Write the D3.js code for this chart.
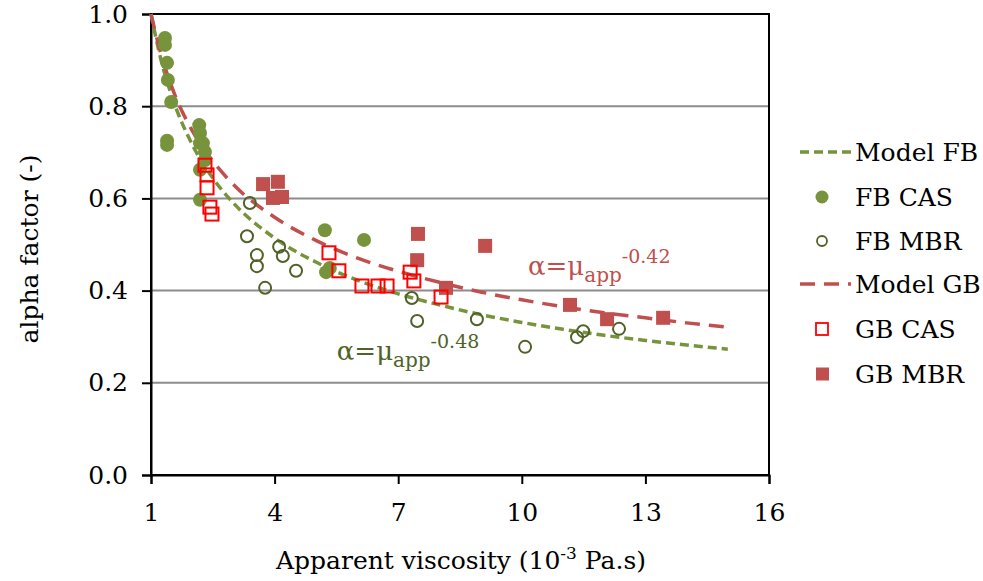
<!DOCTYPE html>
<html>
<head>
<meta charset="utf-8">
<script src="https://cdn.jsdelivr.net/npm/d3@7"></script>
<style>
  body { margin: 0; background: #fff; }
  svg { display: block; font-family: "DejaVu Serif", serif; }
</style>
</head>
<body>
<svg id="chart" width="983" height="581"></svg>
<script>
// model curves, alpha = mu_app^-n
const modelMu = [1, 1.25, 1.5, 2, 2.5, 3, 4, 5, 6, 7, 8, 9, 10, 11, 12, 13, 14, 15];
const modelFB = [1, 0.898, 0.823, 0.717, 0.644, 0.590, 0.514, 0.462, 0.423, 0.393, 0.369, 0.348, 0.331, 0.316, 0.303, 0.292, 0.282, 0.273];
const modelGB = [1, 0.911, 0.843, 0.747, 0.681, 0.630, 0.559, 0.509, 0.471, 0.442, 0.418, 0.397, 0.380, 0.365, 0.352, 0.341, 0.330, 0.321];

const fbCasMu = [1.34, 1.34, 1.39, 1.41, 1.49, 1.39, 1.39, 2.17, 2.19, 2.19, 2.26, 2.31, 2.31, 2.19, 2.19, 5.22, 6.17, 5.34, 5.25];
const fbCasA  = [0.948, 0.933, 0.894, 0.857, 0.809, 0.725, 0.716, 0.759, 0.742, 0.720, 0.720, 0.701, 0.683, 0.662, 0.597, 0.531, 0.510, 0.449, 0.440];

const fbMbrMu = [3.40, 3.33, 4.11, 3.57, 4.20, 3.57, 4.52, 3.77, 7.33, 7.46, 8.91, 10.08, 11.34, 11.49, 12.36];
const fbMbrA  = [0.590, 0.518, 0.495, 0.477, 0.475, 0.453, 0.443, 0.406, 0.384, 0.334, 0.338, 0.278, 0.299, 0.312, 0.317];

const gbCasMu = [2.31, 2.36, 2.36, 2.43, 2.48, 5.32, 5.56, 6.12, 6.51, 6.73, 7.29, 7.38, 8.04];
const gbCasA  = [0.672, 0.651, 0.623, 0.581, 0.566, 0.482, 0.443, 0.410, 0.410, 0.410, 0.440, 0.421, 0.386];

const gbMbrMu = [3.72, 4.08, 3.96, 4.18, 7.48, 7.46, 8.16, 9.11, 11.17, 12.07, 13.43];
const gbMbrA  = [0.631, 0.636, 0.601, 0.603, 0.523, 0.466, 0.406, 0.497, 0.369, 0.338, 0.341];

const xTicks = [1, 4, 7, 10, 13, 16];
const yTicks = [0, 0.2, 0.4, 0.6, 0.8, 1.0];

const GREEN = "#77933c", DKGREEN = "#4f6228", RED = "#c0504d", BRIGHT = "#ff0000";

const svg = d3.select("#chart");
const x = d3.scaleLinear().domain([1, 16]).range([151, 769]);
const y = d3.scaleLinear().domain([0, 1]).range([475, 14]);

// gridlines
svg.append("g")
  .selectAll("line")
  .data(yTicks.filter(d => d > 0 && d < 1))
  .join("line")
  .attr("x1", x(1)).attr("x2", x(16))
  .attr("y1", d => y(d)).attr("y2", d => y(d))
  .attr("stroke", "#8c8c8c").attr("stroke-width", 2);

// frame
svg.append("rect")
  .attr("x", x(1)).attr("y", y(1))
  .attr("width", x(16) - x(1)).attr("height", y(0) - y(1))
  .attr("fill", "none").attr("stroke", "#000").attr("stroke-width", 2);

const xAxis = svg.append("g")
  .attr("transform", `translate(0,${y(0)})`)
  .call(d3.axisBottom(x).tickValues(xTicks).tickSize(9).tickPadding(19).tickFormat(d3.format("d")));
const yAxis = svg.append("g")
  .attr("transform", `translate(${x(1)},0)`)
  .call(d3.axisLeft(y).tickValues(yTicks).tickSize(9).tickPadding(14).tickFormat(d3.format(".1f")));
[xAxis, yAxis].forEach(g => {
  g.select(".domain").attr("stroke-width", 2);
  g.selectAll(".tick line").attr("stroke-width", 2);
  g.selectAll(".tick text")
    .attr("font-family", "DejaVu Serif, serif")
    .attr("font-size", 25).attr("fill", "#000");
});

// model lines
const line = d3.line().x(d => x(d[0])).y(d => y(d[1])).curve(d3.curveMonotoneX);
svg.append("path")
  .datum(modelMu.map((m, i) => [m, modelFB[i]]))
  .attr("d", line).attr("fill", "none")
  .attr("stroke", GREEN).attr("stroke-width", 3.5).attr("stroke-dasharray", "9,5");
svg.append("path")
  .datum(modelMu.map((m, i) => [m, modelGB[i]]))
  .attr("d", line).attr("fill", "none")
  .attr("stroke", RED).attr("stroke-width", 3.5).attr("stroke-dasharray", "15,9");

// points
const pts = (mu, a) => mu.map((m, i) => [m, a[i]]);
svg.append("g").selectAll("circle")
  .data(pts(fbCasMu, fbCasA)).join("circle")
  .attr("cx", d => x(d[0])).attr("cy", d => y(d[1])).attr("r", 7)
  .attr("fill", GREEN);
svg.append("g").selectAll("circle")
  .data(pts(fbMbrMu, fbMbrA)).join("circle")
  .attr("cx", d => x(d[0])).attr("cy", d => y(d[1])).attr("r", 6)
  .attr("fill", "none").attr("stroke", DKGREEN).attr("stroke-width", 2);
svg.append("g").selectAll("rect")
  .data(pts(gbMbrMu, gbMbrA)).join("rect")
  .attr("x", d => x(d[0]) - 7).attr("y", d => y(d[1]) - 7)
  .attr("width", 14).attr("height", 14).attr("fill", RED);
svg.append("g").selectAll("rect")
  .data(pts(gbCasMu, gbCasA)).join("rect")
  .attr("x", d => x(d[0]) - 6.5).attr("y", d => y(d[1]) - 6.5)
  .attr("width", 13).attr("height", 13)
  .attr("fill", "none").attr("stroke", BRIGHT).attr("stroke-width", 2);

// equations
function equation(mu, a, exp, color) {
  const t = svg.append("text")
    .attr("x", x(mu)).attr("y", y(a))
    .attr("fill", color).attr("font-size", 26);
  t.append("tspan").text("α=μ");
  t.append("tspan").attr("font-size", 20).attr("dy", 7).text("app");
  t.append("tspan").attr("font-size", 19).attr("dy", -19).text(exp);
}
equation(10.15, 0.434, "-0.42", RED);
equation(5.51, 0.249, "-0.48", DKGREEN);

// axis titles
svg.append("text")
  .attr("x", 461).attr("y", 569).attr("text-anchor", "middle")
  .attr("font-size", 25)
  .call(t => {
    t.append("tspan").text("Apparent viscosity (10");
    t.append("tspan").attr("font-size", 17).attr("dy", -10).text("-3");
    t.append("tspan").attr("dy", 10).text(" Pa.s)");
  });
svg.append("text")
  .attr("transform", "translate(38,249) rotate(-90)")
  .attr("text-anchor", "middle").attr("font-size", 25)
  .text("alpha factor (-)");

// legend
const legend = [
  { label: "Model FB", type: "line", color: GREEN, dash: "9,5" },
  { label: "FB CAS", type: "dot" },
  { label: "FB MBR", type: "ring" },
  { label: "Model GB", type: "line", color: RED, dash: "15,9" },
  { label: "GB CAS", type: "open" },
  { label: "GB MBR", type: "square" }
];
const legendY = [152, 197, 241, 284, 329, 374];
const lg = svg.append("g").selectAll("g").data(legend).join("g")
  .attr("transform", (d, i) => `translate(0,${legendY[i]})`);
lg.each(function(d) {
  const g = d3.select(this);
  if (d.type === "line") {
    g.append("line").attr("x1", 800).attr("x2", 851)
      .attr("stroke", d.color).attr("stroke-width", 3.5).attr("stroke-dasharray", d.dash);
  } else if (d.type === "dot") {
    g.append("circle").attr("cx", 822).attr("r", 6.5).attr("fill", GREEN);
  } else if (d.type === "ring") {
    g.append("circle").attr("cx", 822).attr("r", 5).attr("fill", "none")
      .attr("stroke", DKGREEN).attr("stroke-width", 1.8);
  } else if (d.type === "open") {
    g.append("rect").attr("x", 816).attr("y", -6).attr("width", 12).attr("height", 12)
      .attr("fill", "none").attr("stroke", BRIGHT).attr("stroke-width", 1.8);
  } else {
    g.append("rect").attr("x", 816).attr("y", -6.5).attr("width", 13).attr("height", 13)
      .attr("fill", RED);
  }
  g.append("text").attr("x", 855).attr("y", 9).attr("font-size", 25).text(d.label);
});
</script>
</body>
</html>
